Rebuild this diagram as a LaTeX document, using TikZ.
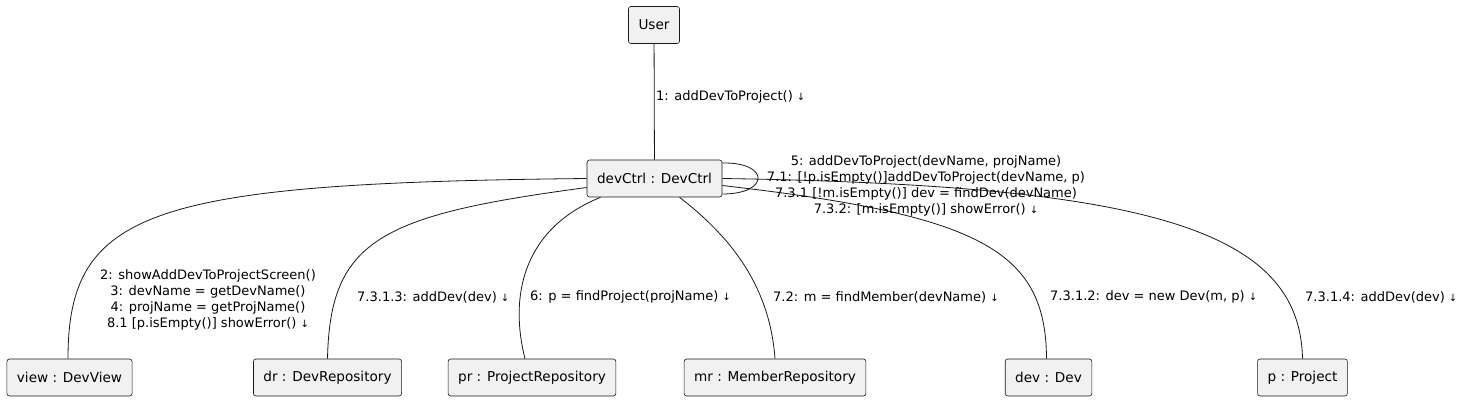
\documentclass[tikz,border=0pt]{standalone}
\usepackage{fontspec}
\setmainfont{DejaVu Sans}
\usetikzlibrary{positioning,calc}
\definecolor{boxfill}{HTML}{F1F1F1}
\definecolor{ink}{HTML}{181818}
\newcommand{\dn}{{\fontsize{10}{10}\selectfont↓}}
\tikzstyle{obj}=[draw=ink, fill=boxfill, rounded corners=2.5pt, line width=0.6pt, minimum height=37pt, inner xsep=10pt, font=\fontsize{13.6}{16}\selectfont]
\tikzstyle{msg}=[inner sep=0pt, align=center, font=\fontsize{13}{16}\selectfont]
\tikzstyle{link}=[draw=ink, line width=0.8pt]

\begin{document}
\begin{tikzpicture}[x=1pt, y=-1pt]
\useasboundingbox (0,0) rectangle (1464,400);

\node (user) [obj] at (654,25) {User};
\node (ctrl) [obj] at (654.5,178.5) {devCtrl : DevCtrl};
\node (view) [obj] at (69.5,377.5) {view : DevView};
\node (dr) [obj] at (327.5,377.5) {dr : DevRepository};
\node (pr) [obj] at (532,377.5) {pr : ProjectRepository};
\node (mr) [obj] at (775,377.5) {mr : MemberRepository};
\node (dev) [obj] at (1048.5,377.5) {dev : Dev};
\node (proj) [obj] at (1302.5,377.5) {p : Project};

\draw [link] (user) -- (ctrl);
\draw [link] (ctrl.west) .. controls (150,183) and (68,210) .. (view.north -| 68,0);
\draw [link] ($(ctrl.west)+(0,9)$) .. controls (380,215) and (330,240) .. (dr.north);
\draw [link] ($(ctrl.south)+(-54,0)$) .. controls (520,230) and (510,300) .. ($(pr.north)+(-7,0)$);
\draw [link] ($(ctrl.south)+(25,0)$) .. controls (735,240) and (770,290) .. (mr.north);
\draw [link] ($(ctrl.east)+(0,7)$) .. controls (980,215) and (1046,250) .. ($(dev.north)+(-2,0)$);
\draw [link] (ctrl.east) .. controls (1150,185) and (1300,230) .. (proj.north);
\draw [link] ($(ctrl.east)+(0,-15.5)$) .. controls (770,162) and (770,194) .. ($(ctrl.east)+(0,15.5)$);

\node (m1) [msg, anchor=west] at (656,97) {1: addDevToProject() \dn};
\node (m2) [msg] at (208,300) {2: showAddDevToProjectScreen()\\3: devName = getDevName()\\4: projName = getProjName()\\8.1 [p.isEmpty()] showError() \dn};
\node (m5) [msg] at (926,186) {5: addDevToProject(devName, projName)\\7.1: [!p.isEmpty()]addDevToProject(devName, p)\\7.3.1 [!m.isEmpty()] dev = findDev(devName)\\7.3.2: [m.isEmpty()] showError() \dn};
\node (m6) [msg, anchor=west] at (530,297) {6: p = findProject(projName) \dn};
\node (m72) [msg, anchor=west] at (773,297) {7.2: m = findMember(devName) \dn};
\node (m7312) [msg, anchor=west] at (1050,297) {7.3.1.2: dev = new Dev(m, p) \dn};
\node (m7313) [msg, anchor=west] at (357,297) {7.3.1.3: addDev(dev) \dn};
\node (m7314) [msg, anchor=west] at (1305,297) {7.3.1.4: addDev(dev) \dn};

\end{tikzpicture}
\end{document}
